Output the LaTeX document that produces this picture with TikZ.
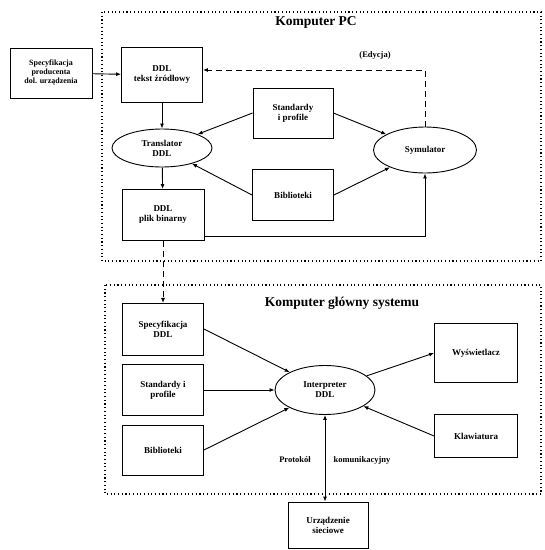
\documentclass[tikz,border=0pt]{standalone}
\usepackage{fontspec}
\setmainfont{Liberation Serif}
\usepackage{tikz}
\usetikzlibrary{arrows.meta,positioning,shapes.geometric}

\tikzset{
  blok/.style={draw,line width=0.9pt,align=center,font=\bfseries\fontsize{9}{10}\selectfont},
  owal/.style={draw,ellipse,line width=0.9pt,align=center,inner sep=0pt,font=\bfseries\fontsize{9}{10}\selectfont},
  ramka/.style={line width=1.1pt,dash pattern=on 1.1pt off 2.6pt},
  edycja/.style={line width=1pt,dash pattern=on 6pt off 4pt},
  tytul/.style={font=\bfseries\fontsize{13.5}{15}\selectfont},
  opis/.style={font=\bfseries\fontsize{8.5}{10}\selectfont}
}

\begin{document}
\begin{tikzpicture}[x=1pt,y=-1pt,>={Latex[length=5pt,width=4pt]},line width=0.9pt]
  \useasboundingbox (0,0) rectangle (545,550);
  % ramki
  \draw[ramka] (102,12) rectangle (541,261);
  \draw[ramka] (105,285) rectangle (541,494);
  \node[tytul] (pc) at (316,22) {Komputer PC};
  \node[tytul] (glowny) at (342,303) {Komputer główny systemu};

  % komputer PC
  \node[blok,minimum width=82pt,minimum height=50pt,font=\bfseries\fontsize{8}{9}\selectfont] (prod) at (51,73) {Specyfikacja\\producenta\\dol. urządzenia};
  \node[blok,minimum width=81pt,minimum height=55pt] (zrodlo) at (162,75) {DDL\\tekst źródłowy};
  \node[owal,minimum width=100pt,minimum height=38pt] (trans) at (162,148) {Translator\\DDL};
  \node[blok,minimum width=82pt,minimum height=51pt] (binarny) at (163,215) {DDL\\plik binarny};
  \node[blok,minimum width=80pt,minimum height=50pt] (stdpc) at (293,113) {Standardy\\i profile};
  \node[blok,minimum width=81pt,minimum height=51pt] (bibpc) at (293,195) {Biblioteki};
  \node[owal,minimum width=103pt,minimum height=46pt] (sym) at (425,150) {Symulator};
  \node[opis] (edyt) at (375,55) {(Edycja)};

  \draw[->] (prod) -- (zrodlo);
  \draw[->] (zrodlo) -- (trans);
  \draw[->] (trans) -- (binarny);
  \draw[->] (stdpc.west) -- (trans);
  \draw[->] (stdpc.east) -- (sym);
  \draw[->] (bibpc.west) -- (trans);
  \draw[->] (bibpc.east) -- (sym);
  \draw[->] ([yshift=-21pt]binarny.east) -| (sym.south);
  \draw[->,edycja] (sym.north) |- ([yshift=5pt]zrodlo.east);
  \draw[->,edycja] (binarny.south) -- ++(0,62);

  % komputer glowny
  \node[blok,minimum width=81pt,minimum height=52pt] (spec) at (163,329) {Specyfikacja\\DDL};
  \node[blok,minimum width=81pt,minimum height=51pt] (stdgl) at (163,390) {Standardy i\\profile};
  \node[blok,minimum width=81pt,minimum height=50pt] (bibgl) at (163,450) {Biblioteki};
  \node[owal,minimum width=100pt,minimum height=49pt] (interp) at (325,390) {Interpreter\\DDL};
  \node[blok,minimum width=83pt,minimum height=59pt] (wysw) at (476,353) {Wyświetlacz};
  \node[blok,minimum width=83pt,minimum height=43pt] (klaw) at (476,436) {Klawiatura};
  \node[blok,minimum width=80pt,minimum height=46pt] (siec) at (328,525) {Urządzenie\\sieciowe};
  \node[opis] (prot) at (295,460) {Protokół};
  \node[opis] (kom) at (362,460) {komunikacyjny};

  \draw[->] (spec.east) -- (interp);
  \draw[->] (stdgl.east) -- (interp);
  \draw[->] (bibgl.east) -- (interp);
  \draw[->] (interp) -- (wysw.west);
  \draw[->] (klaw.west) -- (interp);
  \draw[<->] (interp.south) -- (interp.south |- siec.north);
\end{tikzpicture}
\end{document}
